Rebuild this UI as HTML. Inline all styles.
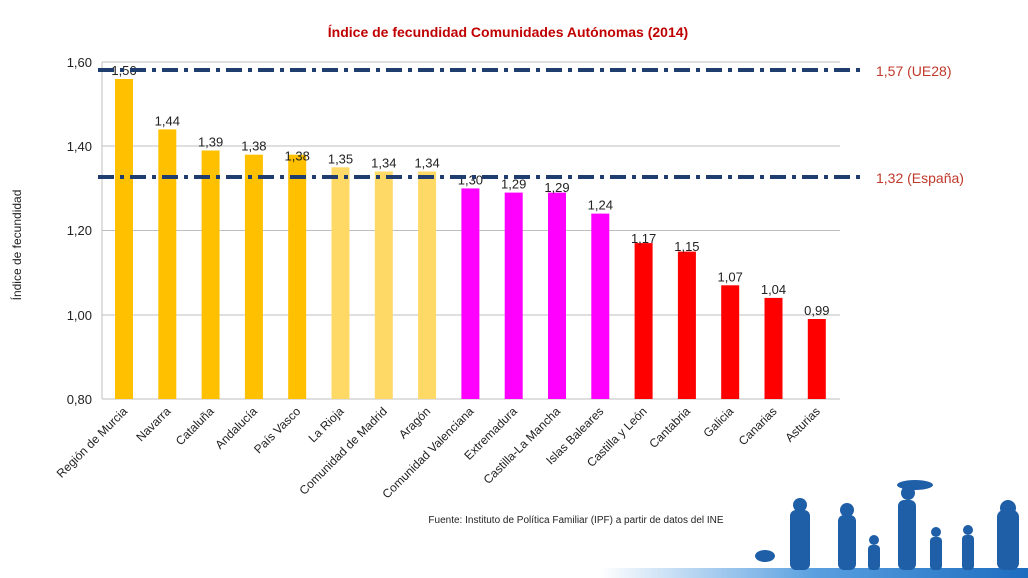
<!DOCTYPE html>
<html><head><meta charset="utf-8"><style>
body{margin:0;background:#fff;}
svg{display:block;font-family:"Liberation Sans",sans-serif;}
.v{font-size:13px;fill:#222;text-anchor:middle}
.c{font-size:12px;fill:#222;text-anchor:end}
</style></head><body>
<svg width="1028" height="578" viewBox="0 0 1028 578" xmlns="http://www.w3.org/2000/svg">
<defs><linearGradient id="g" x1="0" x2="1"><stop offset="0" stop-color="#fff"/><stop offset="0.5" stop-color="#5aa0e0"/><stop offset="1" stop-color="#1c6cc0"/></linearGradient></defs>
<text x="508" y="37" text-anchor="middle" font-size="14" font-weight="bold" fill="#c00000">Índice de fecundidad Comunidades Autónomas (2014)</text>
<g stroke="#bfbfbf" stroke-width="1">
<line x1="102" y1="62" x2="840" y2="62"/><line x1="102" y1="146" x2="840" y2="146"/>
<line x1="102" y1="230.5" x2="840" y2="230.5"/><line x1="102" y1="315" x2="840" y2="315"/>
<line x1="102" y1="399" x2="840" y2="399"/><line x1="102" y1="62" x2="102" y2="399"/>
</g>
<g font-size="13" fill="#222" text-anchor="end">
<text x="92" y="67">1,60</text><text x="92" y="151">1,40</text><text x="92" y="235">1,20</text><text x="92" y="320">1,00</text><text x="92" y="404">0,80</text>
</g>
<text transform="translate(21,245) rotate(-90)" text-anchor="middle" font-size="12" fill="#222">Índice de fecundidad</text>
<g>
<rect x="115" y="79" width="18" height="320" fill="#FFC000"/>
<rect x="158.3" y="129.4" width="18" height="269.6" fill="#FFC000"/>
<rect x="201.6" y="150.5" width="18" height="248.5" fill="#FFC000"/>
<rect x="244.9" y="154.7" width="18" height="244.3" fill="#FFC000"/>
<rect x="288.2" y="154.7" width="18" height="244.3" fill="#FFC000"/>
<rect x="331.5" y="167.3" width="18" height="231.7" fill="#FFD966"/>
<rect x="374.8" y="171.5" width="18" height="227.5" fill="#FFD966"/>
<rect x="418.1" y="171.5" width="18" height="227.5" fill="#FFD966"/>
<rect x="461.4" y="188.4" width="18" height="210.6" fill="#FF00FF"/>
<rect x="504.7" y="192.6" width="18" height="206.4" fill="#FF00FF"/>
<rect x="548" y="192.6" width="18" height="206.4" fill="#FF00FF"/>
<rect x="591.3" y="213.6" width="18" height="185.4" fill="#FF00FF"/>
<rect x="634.6" y="243.1" width="18" height="155.9" fill="#FF0000"/>
<rect x="677.9" y="251.6" width="18" height="147.4" fill="#FF0000"/>
<rect x="721.2" y="285.3" width="18" height="113.7" fill="#FF0000"/>
<rect x="764.5" y="297.9" width="18" height="101.1" fill="#FF0000"/>
<rect x="807.8" y="319" width="18" height="80" fill="#FF0000"/>
</g>
<g class="v">
<text class="v" x="124" y="75">1,56</text>
<text class="v" x="167.3" y="125.4">1,44</text>
<text class="v" x="210.6" y="146.5">1,39</text>
<text class="v" x="253.9" y="150.7">1,38</text>
<text class="v" x="297.2" y="160.7">1,38</text>
<text class="v" x="340.5" y="163.3">1,35</text>
<text class="v" x="383.8" y="167.5">1,34</text>
<text class="v" x="427.1" y="167.5">1,34</text>
<text class="v" x="470.4" y="184.4">1,30</text>
<text class="v" x="513.7" y="188.6">1,29</text>
<text class="v" x="557" y="192">1,29</text>
<text class="v" x="600.3" y="209.6">1,24</text>
<text class="v" x="643.6" y="243">1,17</text>
<text class="v" x="686.9" y="251">1,15</text>
<text class="v" x="730.2" y="281.3">1,07</text>
<text class="v" x="773.5" y="293.9">1,04</text>
<text class="v" x="816.8" y="315">0,99</text>
</g>
<g class="c">
<text class="c" transform="translate(128,412) rotate(-45)">Región de Murcia</text>
<text class="c" transform="translate(171.3,412) rotate(-45)">Navarra</text>
<text class="c" transform="translate(214.6,412) rotate(-45)">Cataluña</text>
<text class="c" transform="translate(257.9,412) rotate(-45)">Andalucía</text>
<text class="c" transform="translate(301.2,412) rotate(-45)">País Vasco</text>
<text class="c" transform="translate(344.5,412) rotate(-45)">La Rioja</text>
<text class="c" transform="translate(387.8,412) rotate(-45)">Comunidad de Madrid</text>
<text class="c" transform="translate(431.1,412) rotate(-45)">Aragón</text>
<text class="c" transform="translate(474.4,412) rotate(-45)">Comunidad Valenciana</text>
<text class="c" transform="translate(517.7,412) rotate(-45)">Extremadura</text>
<text class="c" transform="translate(561,412) rotate(-45)">Castilla-La Mancha</text>
<text class="c" transform="translate(604.3,412) rotate(-45)">Islas Baleares</text>
<text class="c" transform="translate(647.6,412) rotate(-45)">Castilla y León</text>
<text class="c" transform="translate(690.9,412) rotate(-45)">Cantabria</text>
<text class="c" transform="translate(734.2,412) rotate(-45)">Galicia</text>
<text class="c" transform="translate(777.5,412) rotate(-45)">Canarias</text>
<text class="c" transform="translate(820.8,412) rotate(-45)">Asturias</text>
</g>
<g stroke="#1f3d6e" stroke-width="4" stroke-dasharray="16,6,4,6">
<line x1="98" y1="70" x2="866" y2="70"/><line x1="98" y1="177" x2="866" y2="177"/>
</g>
<text x="876" y="76" font-size="14" fill="#c0392b">1,57 (UE28)</text>
<text x="876" y="183" font-size="14" fill="#c0392b">1,32 (España)</text>
<text x="576" y="523" text-anchor="middle" font-size="10" fill="#222">Fuente: Instituto de Política Familiar (IPF) a partir de datos del INE</text>
<rect x="600" y="568" width="428" height="10" fill="url(#g)"/>
<g fill="#1f5fa8">
<ellipse cx="765" cy="556" rx="10" ry="6"/><rect x="790" y="510" width="20" height="60" rx="6"/><circle cx="800" cy="505" r="7"/>
<rect x="838" y="515" width="18" height="55" rx="6"/><circle cx="847" cy="510" r="7"/>
<rect x="868" y="545" width="12" height="25" rx="4"/><circle cx="874" cy="540" r="5"/>
<rect x="898" y="500" width="18" height="70" rx="6"/><circle cx="908" cy="493" r="7"/><ellipse cx="915" cy="485" rx="18" ry="5"/>
<rect x="930" y="537" width="12" height="33" rx="4"/><circle cx="936" cy="532" r="5"/>
<rect x="962" y="535" width="12" height="35" rx="4"/><circle cx="968" cy="530" r="5"/>
<rect x="997" y="510" width="22" height="60" rx="7"/><circle cx="1008" cy="508" r="8"/>
</g>
</svg>
</body></html>
